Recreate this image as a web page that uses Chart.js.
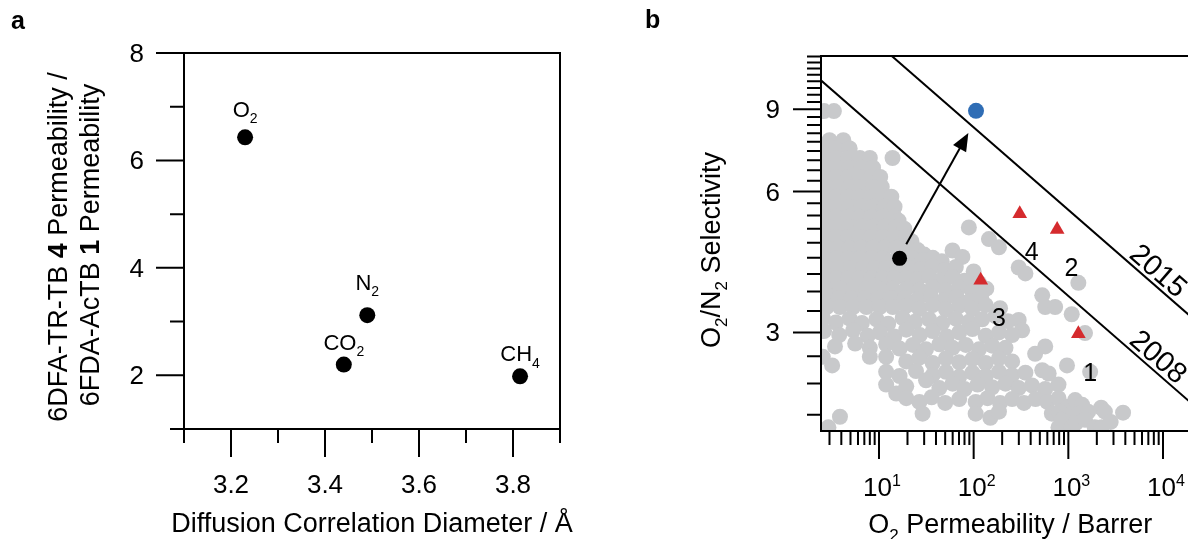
<!DOCTYPE html>
<html>
<head>
<meta charset="utf-8">
<script src="https://cdn.jsdelivr.net/npm/chart.js@4.4.1/dist/chart.umd.min.js"></script>
<style>
  html, body { margin: 0; padding: 0; background: #fff; overflow: hidden; }
  body { width: 1188px; height: 539px; position: relative; }
  canvas { position: absolute; top: 0; }
  #chartA { left: 0; }
  #chartB { left: 640px; }
</style>
</head>
<body>
<canvas id="chartA" width="600" height="539"></canvas>
<canvas id="chartB" width="560" height="539"></canvas>
<script>
// ---- panel a: permeability ratio vs diffusion diameter
const gasNames = ['O2', 'N2', 'CO2', 'CH4'];
const gasDiameter = [3.23, 3.49, 3.44, 3.815];
const permRatio = [6.43, 3.12, 2.20, 1.98];
const gasLabelLift = [28, 33, 23, 23]; // px above the dot

const aXMajor = [3.2, 3.4, 3.6, 3.8];
const aXMinor = [3.1, 3.3, 3.5, 3.7, 3.9];
const aYMajor = [2, 4, 6, 8];
const aYMinor = [1, 3, 5, 7];

// ---- panel b: O2/N2 upper bound plot (P in Barrer, selectivity)
const litPoints = [
  [2.63, 8.92], [3.34, 8.92],
  [3.0, 7.73], [4.2, 7.73],
  [2.6, 7.42], [3.5, 7.42], [4.9, 7.42],
  [13.9, 7.08], [2.63, 7.08], [3.56, 7.08], [4.73, 7.08], [6.27, 7.08], [8.0, 7.08],
  [2.8, 6.75], [3.7, 6.75], [4.9, 6.75], [6.5, 6.75], [8.65, 6.75],
  [2.63, 6.45], [3.56, 6.45], [4.73, 6.45], [6.27, 6.45], [8.3, 6.45], [10.3, 6.45],
  [2.8, 6.14], [3.7, 6.14], [4.9, 6.14], [6.5, 6.14], [8.65, 6.14], [10.7, 6.14],
  [2.63, 5.85], [3.56, 5.85], [4.73, 5.85], [6.27, 5.85], [8.3, 5.85], [11.0, 5.85], [13.5, 5.85],
  [2.8, 5.57], [3.7, 5.57], [4.9, 5.57], [6.5, 5.57], [8.65, 5.57], [11.5, 5.57], [14.6, 5.57],
  [2.63, 5.3], [3.56, 5.3], [4.73, 5.3], [6.27, 5.3], [8.3, 5.3], [11.0, 5.3], [14.6, 5.3], [16.1, 5.2],
  [2.8, 5.05], [3.7, 5.05], [4.9, 5.05], [6.5, 5.05], [8.65, 5.05], [11.5, 5.05], [15.2, 5.05], [18.5, 5.0], [89, 5.03],
  [2.63, 4.8], [3.56, 4.8], [4.73, 4.8], [6.27, 4.8], [8.3, 4.8], [11.0, 4.8], [14.6, 4.8], [19.4, 4.8], [22, 4.7],
  [145, 4.75], [185, 4.56],
  [2.8, 4.55], [3.7, 4.55], [4.9, 4.55], [6.5, 4.55], [8.65, 4.55], [11.5, 4.55], [15.2, 4.55], [20.2, 4.55], [25.7, 4.5], [30, 4.4],
  [59.8, 4.49], [76, 4.35],
  [2.63, 4.32], [3.56, 4.32], [4.73, 4.32], [6.27, 4.32], [8.3, 4.32], [11.0, 4.32], [13, 4.25], [20, 4.3], [22.8, 4.32], [28.9, 4.28], [37, 4.33], [46, 4.26],
  [299, 4.13], [352, 4.01],
  [2.8, 4.12], [3.7, 4.12], [5.1, 4.12], [6.8, 4.12], [9.0, 4.12], [11.9, 4.12], [15.8, 4.12], [21, 4.12], [27.9, 4.1], [36.9, 4.15], [50, 4.08], [64.8, 4.14], [100, 4.05],
  [2.63, 3.92], [3.56, 3.92], [4.73, 3.92], [6.27, 3.92], [8.3, 3.92], [11, 3.92], [14.6, 3.92], [19.4, 3.92], [25.7, 3.9], [34, 3.95], [45, 3.88], [60, 3.94], [80, 3.87], [114, 3.83],
  [1276, 3.83],
  [2.8, 3.72], [3.87, 3.72], [5.33, 3.72], [7.36, 3.72], [10.2, 3.72], [14, 3.72], [19.4, 3.72], [26.7, 3.7], [36.9, 3.75], [50.9, 3.69], [70.3, 3.74], [97, 3.68], [136, 3.72],
  [2.63, 3.55], [3.7, 3.55], [5.1, 3.55], [7.06, 3.55], [9.8, 3.55], [13.4, 3.55], [18.6, 3.55], [25.7, 3.53], [35.3, 3.58], [49, 3.52], [66, 3.57], [90, 3.5], [120, 3.56], [530, 3.6],
  [2.8, 3.4], [3.87, 3.4], [5.33, 3.4], [7.36, 3.4], [10.2, 3.4], [14, 3.4], [19.4, 3.42], [26.7, 3.37], [36.9, 3.43], [50.9, 3.36], [70.3, 3.42], [97, 3.37], [134, 3.43], [190, 3.38], [570, 3.4], [725, 3.4],
  [1086, 3.28], [299, 3.19], [170, 3.25], [230, 3.17],
  [2.55, 3.22], [3.5, 3.15], [4.9, 3.21], [6.6, 3.14], [9.4, 3.2], [12.5, 3.13], [17.8, 3.22], [24, 3.16], [33.8, 3.2], [46.6, 3.14], [64.8, 3.21], [89, 3.16], [123, 3.2],
  [325, 3.03],
  [2.63, 3.02], [3.8, 2.96], [5.33, 3.03], [7.6, 2.95], [10.2, 3.0], [14.5, 2.94], [19.4, 3.04], [27, 2.96], [36.9, 3.02], [52, 2.94], [70.3, 3.0], [97, 3.05], [134, 2.95], [185, 3.0], [255, 2.96], [1500, 2.99],
  [3.43, 2.8], [5.6, 2.84], [8, 2.78], [11.9, 2.83], [16.5, 2.77], [22.8, 2.82], [31.4, 2.76], [43.4, 2.83], [59.8, 2.78], [82.6, 2.82], [114, 2.76], [157, 2.81], [217, 2.78], [570, 2.8], [446, 2.7],
  [2.55, 2.66], [8, 2.66], [11.9, 2.66],
  [3.2, 2.55], [19.4, 2.6], [26.7, 2.65], [36.9, 2.58], [50.9, 2.64], [70.3, 2.59], [97, 2.63], [134, 2.58], [185, 2.64], [255, 2.6],
  [968, 2.55], [1700, 2.47], [530, 2.49], [620, 2.45],
  [11.9, 2.47], [16.5, 2.42], [24.6, 2.48], [36.9, 2.43], [50.9, 2.47], [70.3, 2.41], [97, 2.46], [134, 2.42], [185, 2.47], [255, 2.43], [352, 2.46],
  [11.9, 2.32], [15.2, 2.22], [19.4, 2.3], [31.4, 2.37], [43.4, 2.28], [60, 2.33], [80, 2.27], [110, 2.32], [157, 2.29], [217, 2.33], [299, 2.28], [413, 2.31], [570, 2.27], [787, 2.32],
  [19.4, 2.17], [26.7, 2.13], [36, 2.18], [50, 2.12], [70.3, 2.16], [105, 2.13], [140, 2.17], [190, 2.12], [255, 2.16], [340, 2.12], [450, 2.16], [600, 2.13], [787, 2.17], [1000, 2.08], [1180, 2.15], [1400, 2.1],
  [3.87, 1.98], [28.9, 2.01], [105, 2.01], [150, 1.97], [185, 2.03], [670, 2.01], [800, 2.03], [925, 1.99], [1276, 2.01], [1620, 2.03], [2223, 2.07], [2432, 2.03], [3784, 2.02],
  [2.92, 1.88], [787, 1.88], [850, 1.95], [1086, 1.88], [1200, 1.92], [1500, 1.95], [1900, 1.88], [2250, 1.88], [2800, 1.93]
];
const tbPoints = [[306.7, 5.38], [762, 4.98], [118.7, 3.88], [1276, 2.98]];
const startPoint = [[16.5, 4.32]];
const finalPoint = [[105.9, 8.93]];
const bound2008 = [[2.4, 10.41], [20000, 2.116]];
const bound2015 = [[10, 12.36], [20000, 3.232]];
const arrowPath = [[19.4, 4.63], [87.9, 8.01]];
const pointTags = [['4', 410, 4.48], ['2', 1077, 4.14], ['3', 184.6, 3.24], ['1', 1705, 2.47]];
const boundTagAt = 4000;

const bXMajor = [10, 100, 1000, 10000];
const bXExp = ['1', '2', '3', '4'];
const bXMinor = [3, 4, 5, 6, 7, 8, 9, 20, 30, 40, 50, 60, 70, 80, 90,
  200, 300, 400, 500, 600, 700, 800, 900, 2000, 3000, 4000, 5000, 6000, 7000, 8000, 9000];
const bYMajor = [3, 6, 9];
const bYMinor = [2, 2.333, 2.667, 3.333, 3.667, 4, 4.333, 4.667, 5, 5.333, 5.667,
  6.333, 6.667, 7, 7.333, 7.667, 8, 8.333, 8.667, 9.333, 9.667, 10, 10.333, 10.667, 11, 11.333, 11.667];

const FONT = '"Liberation Sans", Arial, Helvetica, sans-serif';
const MAJOR = 28, MINOR = 14;

// draws text runs: [text, kind] with kind '', 'b', 'sub', 'sup'
function rich(ctx, parts, x, y, size, align) {
  const spec = parts.map(([t, k]) => {
    const s = (k === 'sub' || k === 'sup') ? Math.round(size * 0.62) : size;
    const f = (k === 'b' ? 'bold ' : '') + s + 'px ' + FONT;
    ctx.font = f;
    return { t, f, w: ctx.measureText(t).width, dy: k === 'sub' ? size * 0.28 : k === 'sup' ? -size * 0.38 : 0 };
  });
  const total = spec.reduce((a, p) => a + p.w, 0);
  let cx = align === 'center' ? x - total / 2 : align === 'right' ? x - total : x;
  ctx.textAlign = 'left';
  ctx.textBaseline = 'alphabetic';
  spec.forEach(p => { ctx.font = p.f; ctx.fillText(p.t, cx, y + p.dy); cx += p.w; });
}

function chem(name) {
  return name.split(/(\d+)/).filter(s => s).map(s => [s, /^\d+$/.test(s) ? 'sub' : '']);
}

function vertical(ctx, parts, xCenter, yCenter, size) {
  ctx.save();
  ctx.translate(xCenter + size * 0.358, yCenter);
  ctx.rotate(-Math.PI / 2);
  rich(ctx, parts, 0, 0, size, 'center');
  ctx.restore();
}

function drawTicks(ctx, a, x, y, xMajor, xMinor, yMajor, yMinor) {
  ctx.beginPath();
  xMajor.forEach(v => { const p = x.getPixelForValue(v); ctx.moveTo(p, a.bottom); ctx.lineTo(p, a.bottom + MAJOR); });
  xMinor.forEach(v => { const p = x.getPixelForValue(v); ctx.moveTo(p, a.bottom); ctx.lineTo(p, a.bottom + MINOR); });
  yMajor.forEach(v => { const p = y.getPixelForValue(v); ctx.moveTo(a.left, p); ctx.lineTo(a.left - MAJOR, p); });
  yMinor.forEach(v => { const p = y.getPixelForValue(v); ctx.moveTo(a.left, p); ctx.lineTo(a.left - MINOR, p); });
  ctx.stroke();
}

const panelA = {
  id: 'panelA',
  afterDraw(chart) {
    const { ctx, chartArea: a, scales: { x, y } } = chart;
    ctx.save();
    ctx.strokeStyle = '#000';
    ctx.fillStyle = '#000';
    ctx.lineWidth = 2;
    ctx.strokeRect(a.left, a.top, a.right - a.left, a.bottom - a.top);
    drawTicks(ctx, a, x, y, aXMajor, aXMinor, aYMajor, aYMinor);

    aXMajor.forEach(v => rich(ctx, [[v.toFixed(1), '']], x.getPixelForValue(v), 493, 26, 'center'));
    aYMajor.forEach(v => rich(ctx, [[String(v), '']], a.left - MAJOR - 12, y.getPixelForValue(v) + 9, 26, 'right'));

    gasNames.forEach((g, i) => {
      const px = x.getPixelForValue(gasDiameter[i]);
      const py = y.getPixelForValue(permRatio[i]);
      rich(ctx, chem(g), px, py - gasLabelLift[i] + 8, 22, 'center');
    });

    rich(ctx, [['Diffusion Correlation Diameter / Å', '']], (a.left + a.right) / 2, 532, 27, 'center');
    vertical(ctx, [['6DFA-TR-TB ', ''], ['4', 'b'], [' Permeability /', '']], 57, 247, 27);
    vertical(ctx, [['6FDA-AcTB ', ''], ['1', 'b'], [' Permeability', '']], 89, 245, 27);

    rich(ctx, [['a', 'b']], 11, 29, 25, 'left');
    ctx.restore();
  }
};

function boundTag(ctx, x, y, pts, text) {
  const x1 = x.getPixelForValue(pts[0][0]), y1 = y.getPixelForValue(pts[0][1]);
  const x2 = x.getPixelForValue(pts[1][0]), y2 = y.getPixelForValue(pts[1][1]);
  const px = x.getPixelForValue(boundTagAt);
  const py = y1 + (y2 - y1) * (px - x1) / (x2 - x1);
  ctx.save();
  ctx.translate(px, py);
  ctx.rotate(Math.atan2(y2 - y1, x2 - x1));
  rich(ctx, [[text, '']], 0, -4, 29, 'left');
  ctx.restore();
}

const panelB = {
  id: 'panelB',
  afterDraw(chart) {
    const { ctx, chartArea: a, scales: { x, y } } = chart;
    ctx.save();
    ctx.strokeStyle = '#000';
    ctx.fillStyle = '#000';

    // arrow from the parent polymer to the TR polymer
    const x1 = x.getPixelForValue(arrowPath[0][0]), y1 = y.getPixelForValue(arrowPath[0][1]);
    const x2 = x.getPixelForValue(arrowPath[1][0]), y2 = y.getPixelForValue(arrowPath[1][1]);
    const ang = Math.atan2(y2 - y1, x2 - x1);
    const head = 18, half = 7.5;
    ctx.lineWidth = 2;
    ctx.beginPath();
    ctx.moveTo(x1, y1);
    ctx.lineTo(x2 - Math.cos(ang) * head * 0.8, y2 - Math.sin(ang) * head * 0.8);
    ctx.stroke();
    ctx.beginPath();
    ctx.moveTo(x2, y2);
    ctx.lineTo(x2 - Math.cos(ang) * head + Math.sin(ang) * half, y2 - Math.sin(ang) * head - Math.cos(ang) * half);
    ctx.lineTo(x2 - Math.cos(ang) * head - Math.sin(ang) * half, y2 - Math.sin(ang) * head + Math.cos(ang) * half);
    ctx.closePath();
    ctx.fill();

    pointTags.forEach(([t, p, s]) => rich(ctx, [[t, '']], x.getPixelForValue(p), y.getPixelForValue(s) + 9, 25, 'center'));
    boundTag(ctx, x, y, bound2015, '2015');
    boundTag(ctx, x, y, bound2008, '2008');

    ctx.lineWidth = 2;
    ctx.strokeRect(a.left, a.top, a.right - a.left, a.bottom - a.top);
    drawTicks(ctx, a, x, y, bXMajor, bXMinor, bYMajor, bYMinor);

    bXMajor.forEach((v, i) => rich(ctx, [['10', ''], [bXExp[i], 'sup']], x.getPixelForValue(v) + 3, 496, 26, 'center'));
    bYMajor.forEach(v => rich(ctx, [[String(v), '']], a.left - MAJOR - 13, y.getPixelForValue(v) + 9, 26, 'right'));

    rich(ctx, [['O', ''], ['2', 'sub'], [' Permeability / Barrer', '']], (a.left + a.right) / 2 + 4, 533, 27, 'center');
    vertical(ctx, [['O', ''], ['2', 'sub'], ['/N', ''], ['2', 'sub'], [' Selectivity', '']], 70, 250, 27);

    rich(ctx, [['b', 'b']], 5, 28, 25, 'left');
    ctx.restore();
  }
};

const hiddenAxis = {
  grid: { display: false },
  border: { display: false },
  ticks: { display: false },
  title: { display: false },
  bounds: 'data'
};

const toXY = arr => arr.map(([p, s]) => ({ x: p, y: s }));

new Chart(document.getElementById('chartA'), {
  type: 'scatter',
  data: {
    datasets: [{
      data: gasDiameter.map((d, i) => ({ x: d, y: permRatio[i] })),
      pointRadius: 8,
      pointBackgroundColor: '#000',
      pointBorderWidth: 0
    }]
  },
  options: {
    responsive: false,
    animation: false,
    devicePixelRatio: 1,
    events: [],
    layout: { padding: { left: 0, right: 40, top: 53, bottom: 0 } },
    plugins: { legend: { display: false }, tooltip: { enabled: false } },
    scales: {
      x: { ...hiddenAxis, type: 'linear', min: 3.1, max: 3.9, afterFit: s => { s.height = 110; } },
      y: { ...hiddenAxis, type: 'linear', min: 1, max: 8, afterFit: s => { s.width = 184; } }
    }
  },
  plugins: [panelA]
});

new Chart(document.getElementById('chartB'), {
  type: 'scatter',
  data: {
    datasets: [
      { data: toXY(finalPoint), order: 1, pointRadius: 8, pointBackgroundColor: '#2f6db5', pointBorderWidth: 0 },
      { data: toXY(startPoint), order: 2, pointRadius: 7.5, pointBackgroundColor: '#000', pointBorderWidth: 0 },
      { data: toXY(tbPoints), order: 3, pointStyle: 'triangle', pointRadius: 8.5, pointBackgroundColor: '#d52b2e', pointBorderWidth: 0 },
      { data: toXY(bound2015), order: 4, showLine: true, borderColor: '#000', borderWidth: 2, pointRadius: 0, clip: 0 },
      { data: toXY(bound2008), order: 4, showLine: true, borderColor: '#000', borderWidth: 2, pointRadius: 0, clip: 0 },
      { data: toXY(litPoints), order: 6, pointRadius: 8, pointBackgroundColor: '#c8c9cb', pointBorderWidth: 0, clip: 0 }
    ]
  },
  options: {
    responsive: false,
    animation: false,
    devicePixelRatio: 1,
    events: [],
    layout: { padding: { left: 0, right: 6, top: 56, bottom: 0 } },
    plugins: { legend: { display: false }, tooltip: { enabled: false } },
    scales: {
      x: { ...hiddenAxis, type: 'logarithmic', min: 2.44, max: 20000, afterFit: s => { s.height = 108; } },
      y: { ...hiddenAxis, type: 'logarithmic', min: 1.846, max: 11.7, afterFit: s => { s.width = 181; } }
    }
  },
  plugins: [panelB]
});
</script>
</body>
</html>
